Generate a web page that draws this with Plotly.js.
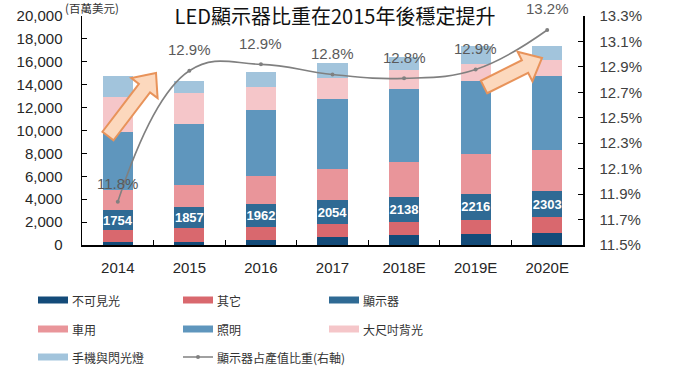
<!DOCTYPE html>
<html><head><meta charset="utf-8">
<script src="https://cdn.plot.ly/plotly-3.0.1.min.js"></script>
<style>html,body{margin:0;padding:0;background:#fff}#chart{width:680px;height:382px}</style>
</head><body><div id="chart"></div><script>
// ---- data ----
const categories = ['2014', '2015', '2016', '2017', '2018E', '2019E', '2020E'];
const invisible = [290, 300, 435, 700, 870, 960, 1070];        // 不可見光
const others = [1000, 1170, 1168, 1136, 1142, 1254, 1347];     // 其它
const display = [1754, 1857, 1962, 2054, 2138, 2216, 2303];    // 顯示器
const automotive = [1736, 1893, 2435, 2780, 3090, 3480, 3600]; // 車用
const lighting = [5070, 5360, 5800, 6040, 6390, 6440, 6400];   // 照明
const backlight = [3050, 2700, 1970, 1890, 1650, 1450, 1450];  // 大尺吋背光
const mobile = [1850, 1070, 1300, 1290, 1120, 1600, 1220];     // 手機與閃光燈
const displayShare = [11.84, 12.87, 12.92, 12.84, 12.81, 12.88, 13.19]; // 顯示器占產值比重 (%)
const seriesNames = ['不可見光', '其它', '顯示器', '車用', '照明', '大尺吋背光', '手機與閃光燈'];
const lineName = '顯示器占產值比重(右軸)';
const chartTitle = 'LED顯示器比重在2015年後穩定提升';
const unitLabel = '(百萬美元)';

// ---- styles ----
const colors = ['#134b79', '#d9686e', '#2f6a94', '#e9959a', '#5f96bd', '#f5c6c9', '#a2c4dc'];
const lineColor = '#808080';
const cjk = 'Noto Sans CJK TC, Noto Sans, sans-serif';
const latin = 'Liberation Sans, Arial, Noto Sans CJK TC, sans-serif';

const seriesValues = [invisible, others, display, automotive, lighting, backlight, mobile];

const traces = seriesValues.map((vals, i) => {
  const t = {
    type: 'bar', name: seriesNames[i], x: categories, y: vals,
    marker: {color: colors[i], line: {width: 0}},
    hoverinfo: 'none', showlegend: false
  };
  if (i === 2) {
    t.text = vals.map(v => '<b>' + v + '</b>');
    t.textposition = 'inside';
    t.insidetextanchor = 'middle';
    t.constraintext = 'none';
    t.textfont = {color: '#ffffff', size: 13, family: latin};
  }
  return t;
});

traces.push({
  type: 'scatter', mode: 'lines+markers', name: lineName,
  x: categories, y: displayShare, yaxis: 'y2',
  line: {color: lineColor, width: 1.6, shape: 'spline', smoothing: 1.2},
  marker: {color: lineColor, size: 4},
  hoverinfo: 'none', showlegend: false
});

// pixel -> paper helpers (plot area: x 82..583, y 16..245)
const PL = 82, PR = 583, PT = 16, PB = 245;
const px = v => (v - PL) / (PR - PL);
const py = v => (PB - v) / (PB - PT);

function arrowPath(tx, ty, hx, hy, sw, hw, hl) {
  const dx = hx - tx, dy = hy - ty, L = Math.hypot(dx, dy);
  const ux = dx / L, uy = dy / L, nx = -uy, ny = ux;
  const bx = hx - ux * hl, by = hy - uy * hl;
  const pts = [
    [tx + nx * sw, ty + ny * sw], [bx + nx * sw, by + ny * sw], [bx + nx * hw, by + ny * hw],
    [hx, hy],
    [bx - nx * hw, by - ny * hw], [bx - nx * sw, by - ny * sw], [tx - nx * sw, ty - ny * sw]
  ];
  return 'M' + pts.map(p => px(p[0]).toFixed(4) + ',' + py(p[1]).toFixed(4)).join('L') + 'Z';
}

const shapes = [
  {type: 'path', xref: 'paper', yref: 'paper', layer: 'above',
   path: arrowPath(108, 136, 156, 73, 7, 16.5, 19),
   fillcolor: '#fcd8bd', line: {color: '#e8935a', width: 2}},
  {type: 'path', xref: 'paper', yref: 'paper', layer: 'above',
   path: arrowPath(484, 87, 542, 58, 7, 16.5, 19),
   fillcolor: '#fcd8bd', line: {color: '#e8935a', width: 2}}
];

const annotations = [];
// line labels (x given as category index)
displayShare.forEach((v, i) => {
  annotations.push({x: i, y: v, xref: 'x', yref: 'y2', text: v.toFixed(1) + '%',
    showarrow: false, yshift: i === 0 ? 18 : 21, font: {size: 15, color: '#5a5a5a', family: latin}});
});
// unit label
annotations.push({xref: 'paper', yref: 'paper', x: px(63), y: py(8), xanchor: 'left', yanchor: 'middle',
  text: unitLabel, showarrow: false, font: {size: 11.5, color: '#333', family: cjk}});

// custom legend
const colX = [38, 183, 329], rowY = [300, 329, 357];
const legendItems = seriesNames.map((n, i) => ({name: n, color: colors[i], kind: 'bar'}));
legendItems.push({name: lineName, color: lineColor, kind: 'line'});
legendItems.forEach((it, k) => {
  const cx = colX[k % 3], cy = rowY[Math.floor(k / 3)];
  if (it.kind === 'bar') {
    shapes.push({type: 'rect', xref: 'paper', yref: 'paper', x0: px(cx), x1: px(cx + 30),
      y0: py(cy - 3.5), y1: py(cy + 3.5), fillcolor: it.color, line: {width: 0}});
  } else {
    shapes.push({type: 'line', xref: 'paper', yref: 'paper', x0: px(cx), x1: px(cx + 30),
      y0: py(cy), y1: py(cy), line: {color: it.color, width: 1.5}});
    shapes.push({type: 'circle', xref: 'paper', yref: 'paper', x0: px(cx + 13), x1: px(cx + 17),
      y0: py(cy - 2), y1: py(cy + 2), fillcolor: it.color, line: {width: 0}});
  }
  annotations.push({xref: 'paper', yref: 'paper', x: px(cx + 32), y: py(cy), xanchor: 'left', yanchor: 'middle',
    text: it.name, showarrow: false, font: {size: 12, color: '#333', family: cjk}});
});

const layout = {
  width: 680, height: 382,
  margin: {l: PL, r: 680 - PR, t: PT, b: 382 - PB, pad: 0},
  paper_bgcolor: '#ffffff', plot_bgcolor: '#ffffff',
  barmode: 'stack', bargap: 0.58,
  showlegend: false,
  title: {text: chartTitle, x: 335 / 680, xanchor: 'center', xref: 'container',
    y: 1 - 17 / 382, yanchor: 'middle', yref: 'container',
    font: {size: 20, color: '#111', family: cjk}},
  font: {family: latin, color: '#262626'},
  xaxis: {type: 'category', range: [-0.5, 6.5], autorange: false,
    showline: true, linecolor: '#000', linewidth: 1.5,
    ticks: 'inside', tickson: 'boundaries', ticklen: 5, tickcolor: '#000',
    showgrid: false, zeroline: false, ticklabelstandoff: 8, tickangle: 0,
    tickfont: {size: 15, color: '#262626', family: latin}},
  yaxis: {range: [0, 20000], autorange: false, dtick: 2000, tick0: 0, tickformat: ',d',
    showline: true, linecolor: '#000', linewidth: 1.5, ticks: 'inside', ticklen: 5,
    tickcolor: '#000', showgrid: false, zeroline: false, ticklabelstandoff: 15,
    tickfont: {size: 15, color: '#262626', family: latin}},
  yaxis2: {overlaying: 'y', side: 'right', range: [11.5, 13.3], autorange: false, dtick: 0.2, tick0: 11.5,
    tickformat: '.1f', ticksuffix: '%', showline: true, linecolor: '#000', linewidth: 1.5,
    ticks: 'inside', ticklen: 5, tickcolor: '#000', showgrid: false, zeroline: false,
    ticklabelstandoff: 12, tickfont: {size: 15, color: '#404040', family: latin}},
  shapes: shapes,
  annotations: annotations
};

Plotly.newPlot('chart', traces, layout, {displayModeBar: false, staticPlot: true});
</script></body></html>
